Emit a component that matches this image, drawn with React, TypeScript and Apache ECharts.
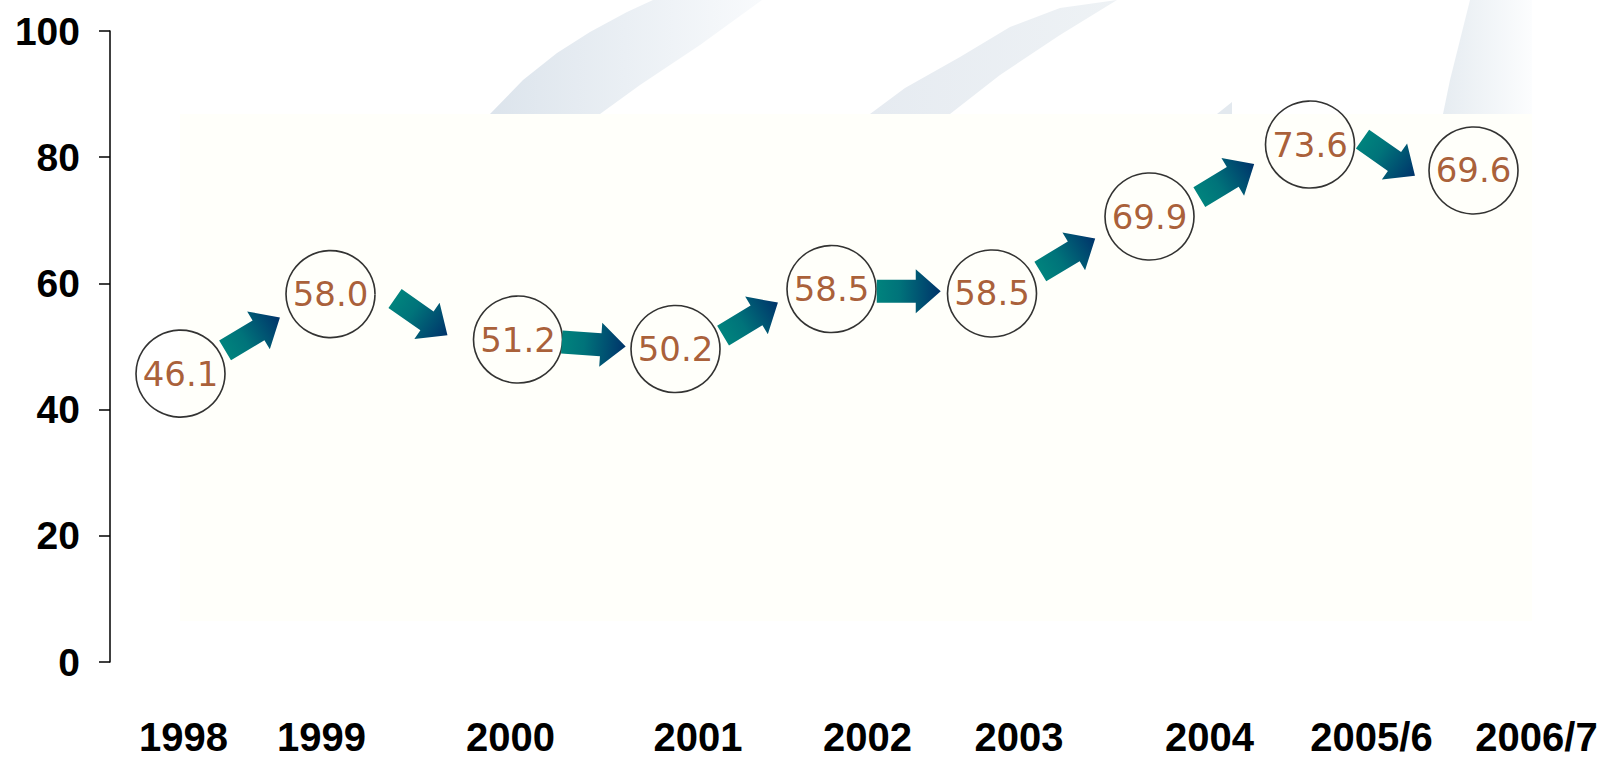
import React, { useEffect, useRef } from "react";
import * as echarts from "echarts";

// ---- data ----
const categories = ["1998", "1999", "2000", "2001", "2002", "2003", "2004", "2005/6", "2006/7"];
const values = [46.1, 58.0, 51.2, 50.2, 58.5, 58.5, 69.9, 73.6, 69.6];
// height (on the 0-100 scale) at which each circle sits in the picture
const circleLevels = [45.7, 58.3, 51.1, 49.6, 59.1, 58.4, 70.6, 82.0, 77.9];
// horizontal slot (0-10 scale) of each circle and of each year label
const circleSlots = [0.47, 1.47, 2.72, 3.77, 4.81, 5.88, 6.93, 8.0, 9.09];
const labelSlots = [0.49, 1.41, 2.67, 3.92, 5.05, 6.06, 7.33, 8.41, 9.51];
const yMin = 0;
const yMax = 100;
const yInterval = 20;

const circleData = circleSlots.map((x, i) => [x, circleLevels[i], values[i]]);
const arrowData = circleSlots.slice(0, -1).map((x, i) => [
  x,
  circleLevels[i],
  circleSlots[i + 1],
  circleLevels[i + 1],
  values[i + 1] - values[i],
]);

function renderArrow(params: any, api: any) {
  const p1 = api.coord([api.value(0), api.value(1)]);
  const p2 = api.coord([api.value(2), api.value(3)]);
  const d = api.value(4);
  const deg = Math.abs(d) >= 2 ? (d > 0 ? 31 : -35) : d * 4;
  const a = (deg * Math.PI) / 180;
  const ux = Math.cos(a);
  const uy = -Math.sin(a);
  const nx = -uy;
  const ny = ux;
  const cx = (p1[0] + p2[0]) / 2 - 3;
  const cy = (p1[1] + p2[1]) / 2;
  const L = 64;
  const sw = 23;
  const hw = 44;
  const hl = 25;
  const local = [
    [-L / 2, -sw / 2],
    [L / 2 - hl, -sw / 2],
    [L / 2 - hl, -hw / 2],
    [L / 2, 0],
    [L / 2 - hl, hw / 2],
    [L / 2 - hl, sw / 2],
    [-L / 2, sw / 2],
  ];
  const pts = local.map(([s, t]) => [cx + s * ux + t * nx, cy + s * uy + t * ny]);
  const tail = [cx - (L / 2) * ux, cy - (L / 2) * uy];
  const tip = [cx + (L / 2) * ux, cy + (L / 2) * uy];
  return {
    type: "polygon",
    shape: { points: pts },
    style: {
      fill: new echarts.graphic.LinearGradient(
        tail[0],
        tail[1],
        tip[0],
        tip[1],
        [
          { offset: 0, color: "#00837d" },
          { offset: 0.35, color: "#00737a" },
          { offset: 1, color: "#00336a" },
        ],
        true
      ),
    },
  };
}

export default function App() {
  const ref = useRef<HTMLDivElement>(null);
  useEffect(() => {
    if (!ref.current) return;
    const chart = echarts.init(ref.current, null, { renderer: "svg" });
    const swooshGrad = (x1: number, x2: number, c1: string, c2: string) =>
      new echarts.graphic.LinearGradient(x1, 0, x2, 0, [
        { offset: 0, color: c1 },
        { offset: 1, color: c2 },
      ], true);
    chart.setOption({
      animation: false,
      backgroundColor: "#ffffff",
      graphic: {
        elements: [
          {
            type: "polygon",
            z: -10,
            silent: true,
            shape: {
              points: [
                [490, 114], [523, 80], [557, 53], [590, 32], [627, 12], [653, 0],
                [762, 0], [700, 45], [640, 85], [600, 114],
              ],
            },
            style: { fill: swooshGrad(490, 760, "#dce4ec", "#f8fafc") },
          },
          {
            type: "polygon",
            z: -10,
            silent: true,
            shape: {
              points: [
                [870, 114], [905, 88], [960, 57], [1010, 27], [1060, 8], [1117, 0],
                [1060, 35], [1000, 75], [950, 114],
              ],
            },
            style: { fill: swooshGrad(870, 1117, "#e6ebf1", "#eef2f5") },
          },
          {
            type: "polygon",
            z: -10,
            silent: true,
            shape: { points: [[1217, 114], [1232, 102], [1232, 114]] },
            style: { fill: "#e3e9ef" },
          },
          {
            type: "polygon",
            z: -10,
            silent: true,
            shape: {
              points: [[1443, 114], [1450, 80], [1460, 40], [1470, 0], [1532, 0], [1532, 114]],
            },
            style: { fill: swooshGrad(1443, 1532, "#e6ecf1", "#fcfdfe") },
          },
          {
            type: "rect",
            z: -9,
            silent: true,
            shape: { x: 180, y: 114, width: 1352, height: 507 },
            style: { fill: "#fffffa" },
          },
        ],
      },
      grid: {
        left: 110,
        right: 0,
        top: 31,
        bottom: 96,
        containLabel: false,
        outerBoundsMode: "none",
      },
      xAxis: {
        type: "value",
        min: 0,
        max: 10,
        axisLine: { show: false },
        axisTick: { show: false },
        splitLine: { show: false },
        axisLabel: {
          customValues: labelSlots,
          margin: 55,
          fontSize: 40,
          fontWeight: "bold",
          fontFamily: "'Liberation Sans', Arial, sans-serif",
          color: "#000",
          formatter: (v: number) => {
            const i = labelSlots.findIndex((s) => Math.abs(s - v) < 1e-6);
            return i >= 0 ? categories[i] : "";
          },
        },
      },
      yAxis: {
        type: "value",
        min: yMin,
        max: yMax,
        interval: yInterval,
        axisLine: { show: true, lineStyle: { color: "#000", width: 1.5 } },
        axisTick: { show: true, inside: false, length: 11, lineStyle: { color: "#000", width: 1.5 } },
        splitLine: { show: false },
        axisLabel: {
          margin: 30,
          fontSize: 39,
          fontWeight: "bold",
          fontFamily: "'Liberation Sans', Arial, sans-serif",
          color: "#000",
        },
      },
      series: [
        {
          type: "scatter",
          z: 2,
          data: circleData,
          symbol: "circle",
          symbolSize: [89, 87],
          itemStyle: { color: "rgba(255,255,255,0)", borderColor: "#000", borderWidth: 1.6 },
          label: {
            show: true,
            position: "inside",
            formatter: (p: any) => Number(p.value[2]).toFixed(1),
            fontSize: 34,
            fontFamily: "'DejaVu Sans', sans-serif",
            color: "#933505",
          },
          emphasis: { disabled: true },
        },
        {
          type: "custom",
          z: 3,
          data: arrowData,
          renderItem: renderArrow,
          silent: true,
        },
      ],
    });
    return () => chart.dispose();
  }, []);
  return (
    <div
      ref={ref}
      style={{ position: "fixed", left: 0, top: 0, width: 1610, height: 758 }}
    />
  );
}
